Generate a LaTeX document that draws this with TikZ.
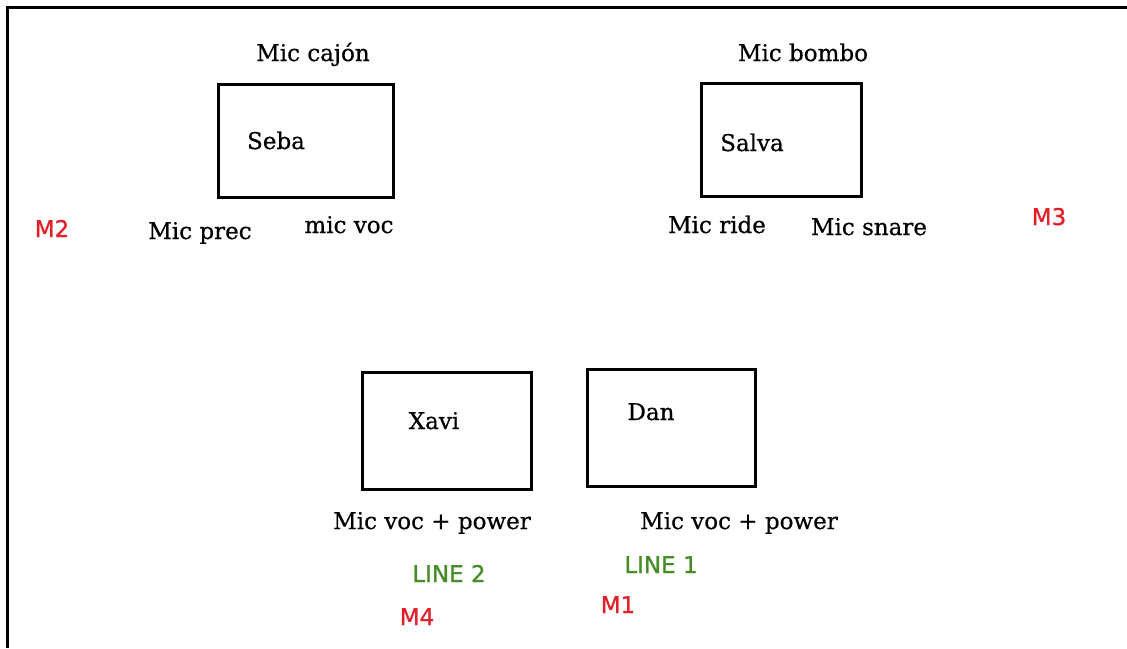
\documentclass[tikz,border=0pt]{standalone}
\usepackage{fontspec}
\setmainfont[FakeBold=0.6]{DejaVu Serif}
\newfontfamily\labelfont[FakeBold=1]{DejaVu Sans}
\usepackage{tikz}
\definecolor{MicRed}{RGB}{226,32,42}
\definecolor{LineGreen}{RGB}{72,140,42}
\tikzstyle{player}  = [draw,rectangle,line width=3pt,inner sep=0pt]
\tikzstyle{mic}     = [anchor=base,inner sep=0pt,font=\fontsize{23}{27}\selectfont]
\tikzstyle{chan}    = [anchor=base,inner sep=0pt,text=MicRed,font=\labelfont\fontsize{23}{27}\selectfont]
\tikzstyle{lineout} = [chan,text=LineGreen]

\begin{document}
\begin{tikzpicture}[x=1pt,y=-1pt]

\useasboundingbox (0,0) rectangle (1127,648);
\draw[line width=3pt] (7,648) -- (7,7) -- (1127,7);

\node[player, minimum width=175pt, minimum height=113pt] (seba)  at (305.5,140.5) {};
\node[player, minimum width=160pt, minimum height=113pt] (salva) at (781,139.5)   {};
\node[player, minimum width=169pt, minimum height=117pt] (xavi)  at (446.5,430.5) {};
\node[player, minimum width=168pt, minimum height=117pt] (dan)   at (671,427.5)   {};

\node[mic] (sebaName)  at (276,149) {Seba};
\node[mic] (salvaName) at (752,151) {Salva};
\node[mic] (xaviName)  at (434,429) {Xavi};
\node[mic] (danName)   at (651,420) {Dan};

\node[mic] (micCajon) at (313,61)  {Mic cajón};
\node[mic] (micPrec)  at (200,239) {Mic prec};
\node[mic] (micVocS)  at (349,233) {mic voc};
\node[mic] (micBombo) at (803,61)  {Mic bombo};
\node[mic] (micRide)  at (717,233) {Mic ride};
\node[mic] (micSnare) at (869,235) {Mic snare};
\node[mic] (micVocX)  at (432,529) {Mic voc + power};
\node[mic] (micVocD)  at (739,529) {Mic voc + power};

\node[chan] (m1) at (618,613)  {M1};
\node[chan] (m2) at (52,237)   {M2};
\node[chan] (m3) at (1049,225) {M3};
\node[chan] (m4) at (417,625)  {M4};

\node[lineout] (line1) at (661,573) {LINE 1};
\node[lineout] (line2) at (449,582) {LINE 2};

\end{tikzpicture}
\end{document}
